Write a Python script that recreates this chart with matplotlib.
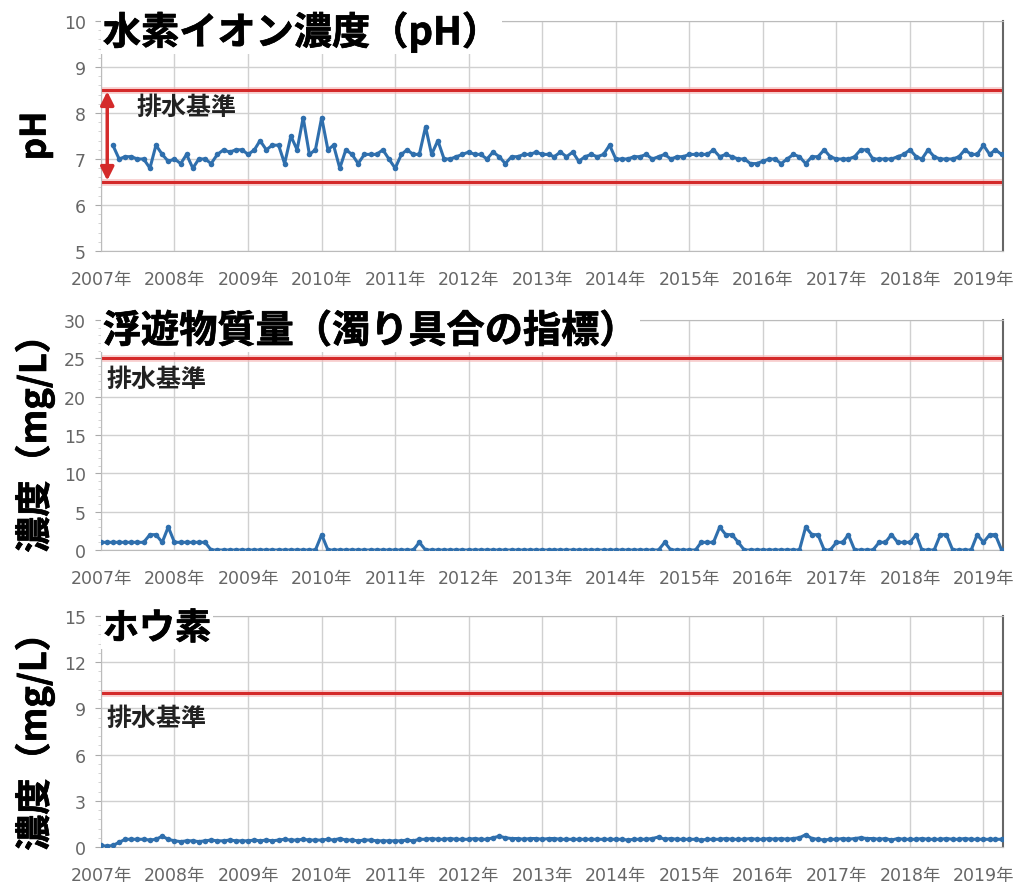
import numpy as np
import pandas as pd
import matplotlib
matplotlib.use('Agg')
import matplotlib.pyplot as plt
import matplotlib.patheffects as pe
from matplotlib.ticker import MultipleLocator

plt.rcParams['font.family'] = ['DejaVu Sans', 'Noto Sans CJK JP']

# pH monthly values, 2007-03 .. 2019-04
ph_values = [
    7.3, 7.0, 7.05, 7.05, 7.0, 7.0, 6.8, 7.3, 7.1, 6.95,                # 2007
    7.0, 6.9, 7.1, 6.8, 7.0, 7.0, 6.9, 7.1, 7.2, 7.15, 7.2, 7.2,        # 2008
    7.1, 7.2, 7.4, 7.2, 7.3, 7.3, 6.9, 7.5, 7.2, 7.9, 7.1, 7.2,         # 2009
    7.9, 7.2, 7.3, 6.8, 7.2, 7.1, 6.9, 7.1, 7.1, 7.1, 7.2, 7.0,         # 2010
    6.8, 7.1, 7.2, 7.1, 7.1, 7.7, 7.1, 7.4, 7.0, 7.0, 7.05, 7.1,        # 2011
    7.15, 7.1, 7.1, 7.0, 7.15, 7.05, 6.9, 7.05, 7.05, 7.1, 7.1, 7.15,   # 2012
    7.1, 7.1, 7.05, 7.15, 7.05, 7.15, 6.95, 7.05, 7.1, 7.05, 7.1, 7.3,  # 2013
    7.0, 7.0, 7.0, 7.05, 7.05, 7.1, 7.0, 7.05, 7.1, 7.0, 7.05, 7.05,    # 2014
    7.1, 7.1, 7.1, 7.1, 7.2, 7.05, 7.1, 7.05, 7.0, 7.0, 6.9, 6.9,       # 2015
    6.95, 7.0, 7.0, 6.9, 7.0, 7.1, 7.05, 6.9, 7.05, 7.05, 7.2, 7.05,    # 2016
    7.0, 7.0, 7.0, 7.05, 7.2, 7.2, 7.0, 7.0, 7.0, 7.0, 7.05, 7.1,       # 2017
    7.2, 7.05, 7.0, 7.2, 7.05, 7.0, 7.0, 7.0, 7.05, 7.2, 7.1, 7.1,      # 2018
    7.3, 7.1, 7.2, 7.1,                                                 # 2019
]

# suspended solids (mg/L), 2007-01 .. 2019-04
ss_values = [
    1, 1, 1, 1, 1, 1, 1, 1, 2, 2, 1, 3,     # 2007
    1, 1, 1, 1, 1, 1, 0, 0, 0, 0, 0, 0,     # 2008
    0, 0, 0, 0, 0, 0, 0, 0, 0, 0, 0, 0,     # 2009
    2, 0, 0, 0, 0, 0, 0, 0, 0, 0, 0, 0,     # 2010
    0, 0, 0, 0, 1, 0, 0, 0, 0, 0, 0, 0,     # 2011
    0, 0, 0, 0, 0, 0, 0, 0, 0, 0, 0, 0,     # 2012
    0, 0, 0, 0, 0, 0, 0, 0, 0, 0, 0, 0,     # 2013
    0, 0, 0, 0, 0, 0, 0, 0, 1, 0, 0, 0,     # 2014
    0, 0, 1, 1, 1, 3, 2, 2, 1, 0, 0, 0,     # 2015
    0, 0, 0, 0, 0, 0, 0, 3, 2, 2, 0, 0,     # 2016
    1, 1, 2, 0, 0, 0, 0, 1, 1, 2, 1, 1,     # 2017
    1, 2, 0, 0, 0, 2, 2, 0, 0, 0, 0, 2,     # 2018
    1, 2, 2, 0,                             # 2019
]

# boron (mg/L), 2007-01 .. 2019-04
boron_values = [
    0.1, 0.05, 0.1, 0.3, 0.5, 0.5, 0.5, 0.5, 0.45, 0.5, 0.7, 0.5,        # 2007
    0.4, 0.35, 0.4, 0.4, 0.35, 0.4, 0.45, 0.4, 0.4, 0.45, 0.4, 0.4,      # 2008
    0.4, 0.45, 0.4, 0.45, 0.4, 0.45, 0.5, 0.45, 0.45, 0.5, 0.45, 0.45,   # 2009
    0.45, 0.5, 0.45, 0.55, 0.45, 0.45, 0.4, 0.45, 0.45, 0.4, 0.4, 0.4,   # 2010
    0.4, 0.4, 0.45, 0.4, 0.5, 0.5, 0.55, 0.5, 0.5, 0.55, 0.5, 0.5,       # 2011
    0.5, 0.55, 0.5, 0.5, 0.6, 0.7, 0.6, 0.55, 0.55, 0.5, 0.55, 0.55,     # 2012
    0.5, 0.55, 0.55, 0.5, 0.5, 0.5, 0.5, 0.5, 0.5, 0.5, 0.5, 0.5,        # 2013
    0.5, 0.5, 0.45, 0.5, 0.5, 0.5, 0.55, 0.65, 0.5, 0.55, 0.5, 0.5,      # 2014
    0.5, 0.5, 0.45, 0.5, 0.5, 0.5, 0.55, 0.5, 0.5, 0.5, 0.55, 0.5,       # 2015
    0.5, 0.55, 0.5, 0.55, 0.5, 0.55, 0.6, 0.8, 0.55, 0.5, 0.45, 0.5,     # 2016
    0.5, 0.55, 0.5, 0.55, 0.6, 0.55, 0.55, 0.5, 0.55, 0.45, 0.55, 0.5,   # 2017
    0.5, 0.5, 0.55, 0.5, 0.5, 0.5, 0.55, 0.5, 0.5, 0.55, 0.5, 0.5,       # 2018
    0.5, 0.5, 0.5, 0.5,                                                  # 2019
]

years = list(range(2007, 2020))
year_labels = [f'{y}年' for y in years]

ph_dates = pd.date_range('2007-03-01', periods=len(ph_values), freq='MS')
ss_dates = pd.date_range('2007-01-01', periods=len(ss_values), freq='MS')
boron_dates = pd.date_range('2007-01-01', periods=len(boron_values), freq='MS')

ph_limits = (6.5, 8.5)
ss_limit = 25
boron_limit = 10

LINE_BLUE = '#2f6fad'
LIMIT_RED = '#d42a2a'
GRID = '#d0d0d0'
TICK_GRAY = '#666666'
JP_BOLD = ['Noto Sans CJK JP', 'DejaVu Sans']
HEAVY = [pe.withStroke(linewidth=0.5, foreground='black')]

fig = plt.figure(figsize=[10.16, 8.87], dpi=100, facecolor='white')

L, W = 101 / 1016, 902 / 1016
def px_axes(top_px, bottom_px):
    return fig.add_axes([L, 1 - bottom_px / 887, W, (bottom_px - top_px) / 887])

ax_ph = px_axes(22, 252)
ax_ss = px_axes(321, 551)
ax_b = px_axes(617, 848)

x_start = pd.Timestamp('2007-01-01')
x_end = pd.Timestamp('2019-04-08')


def style_axes(ax, ylo, yhi, ystep, yminor):
    ax.set_xlim(x_start, x_end)
    ax.set_ylim(ylo, yhi)
    ax.set_xticks([pd.Timestamp(f'{y}-01-01') for y in years])
    ax.set_xticklabels(year_labels)
    ax.yaxis.set_major_locator(MultipleLocator(ystep))
    ax.yaxis.set_minor_locator(MultipleLocator(yminor))
    ax.grid(True, which='major', color=GRID, lw=1.0)
    ax.set_axisbelow(True)
    ax.tick_params(axis='x', length=0, pad=14, labelsize=12.5, labelcolor=TICK_GRAY)
    ax.tick_params(axis='y', which='major', length=4, color='#aaaaaa', pad=7,
                   labelsize=12.5, labelcolor=TICK_GRAY)
    ax.tick_params(axis='y', which='minor', length=2, color='#cccccc')
    for side in ['left', 'bottom', 'top']:
        ax.spines[side].set_color('#bbbbbb')
    ax.spines['right'].set_color('#666666')
    ax.spines['right'].set_linewidth(1.5)


def plot_series(ax, dates, values):
    ax.plot(dates, values, color=LINE_BLUE, lw=2.2, marker='o', ms=4,
            markerfacecolor=LINE_BLUE, markeredgewidth=0, zorder=3)


def limit_line(ax, y):
    ax.axhline(y, color='#f4b6b6', lw=5, alpha=0.6, zorder=2)
    ax.axhline(y, color=LIMIT_RED, lw=2.2, zorder=2)


def title(ax, s, size, y=0.952):
    ax.text(0.002, y, s, transform=ax.transAxes, family=JP_BOLD,
            fontweight='bold', fontsize=size, va='center', ha='left',
            path_effects=HEAVY,
            bbox=dict(facecolor='white', edgecolor='none', pad=1), zorder=5)


def standard_label(ax, x, y):
    ax.text(x, y, '排水基準', transform=ax.get_yaxis_transform(), family=JP_BOLD,
            fontweight='bold', fontsize=18, color='#222222', va='center')


# pH
style_axes(ax_ph, 5, 10, 1, 0.2)
for lim in ph_limits:
    limit_line(ax_ph, lim)
plot_series(ax_ph, ph_dates, ph_values)
ax_ph.annotate('', xy=(pd.Timestamp('2007-02-01'), ph_limits[0] + 0.03),
               xytext=(pd.Timestamp('2007-02-01'), ph_limits[1] - 0.03),
               arrowprops=dict(arrowstyle='<|-|>', color=LIMIT_RED, lw=2.5,
                               mutation_scale=20, shrinkA=0, shrinkB=0), zorder=4)
standard_label(ax_ph, 0.039, 8.13)
title(ax_ph, '水素イオン濃度（pH）', 27.5)

# suspended solids
style_axes(ax_ss, 0, 30, 5, 1)
limit_line(ax_ss, ss_limit)
plot_series(ax_ss, ss_dates, ss_values)
standard_label(ax_ss, 0.006, 22.3)
title(ax_ss, '浮遊物質量（濁り具合の指標）', 27.5)

# boron
style_axes(ax_b, 0, 15, 3, 0.6)
limit_line(ax_b, boron_limit)
plot_series(ax_b, boron_dates, boron_values)
standard_label(ax_b, 0.006, 8.4)
title(ax_b, 'ホウ素', 26, y=0.945)

# y-axis labels
fig.text(35 / 1016, 1 - 137 / 887, 'pH', rotation=90, family=JP_BOLD,
         fontweight='bold', fontsize=25, ha='center', va='center',
         path_effects=HEAVY)
for yc in (436, 734):
    fig.text(35 / 1016, 1 - yc / 887, '濃度（mg/L）', rotation=90, family=JP_BOLD,
             fontweight='bold', fontsize=26, ha='center', va='center',
             path_effects=HEAVY)

fig.savefig('out.png', dpi=100, facecolor='white')
